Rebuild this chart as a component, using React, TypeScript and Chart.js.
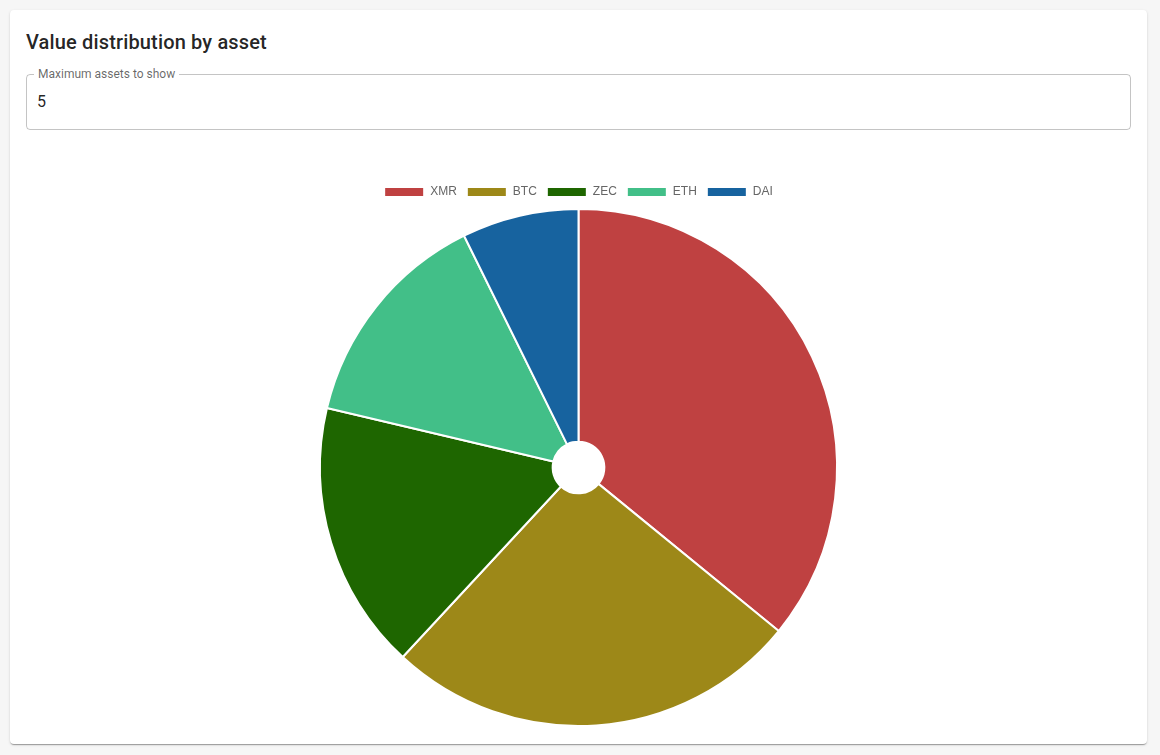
import React, { useEffect, useRef } from "react";
import { Chart, registerables } from "chart.js";

Chart.register(...registerables);

const assets = ["XMR", "BTC", "ZEC", "ETH", "DAI"];
const values = [35.9, 26.0, 16.8, 14.0, 7.3];
const colors = ["#bf4141", "#9d8818", "#1e6600", "#42bf88", "#17639f"];

export default function App() {
  const ref = useRef<HTMLCanvasElement | null>(null);

  useEffect(() => {
    document.body.style.margin = "0";
    document.body.style.background = "#f6f6f6";
    const chart = new Chart(ref.current!, {
      type: "doughnut",
      data: {
        labels: assets,
        datasets: [
          {
            data: values,
            backgroundColor: colors,
            borderColor: "#ffffff",
            borderWidth: 2,
          },
        ],
      },
      options: {
        animation: false,
        responsive: false,
        maintainAspectRatio: false,
        cutout: "10%",
        plugins: {
          legend: {
            position: "top",
            labels: {
              boxWidth: 40,
              boxHeight: 10,
              color: "#666",
              font: { family: "'Helvetica Neue', Helvetica, Arial, 'Liberation Sans', sans-serif", size: 12 },
            },
          },
          tooltip: { enabled: false },
        },
      },
    });
    return () => chart.destroy();
  }, []);

  return (
    <div style={{ padding: 10, fontFamily: "Roboto, sans-serif" }}>
      <div
        style={{
          width: 1137,
          height: 734,
          boxSizing: "border-box",
          background: "#fff",
          borderRadius: 4,
          boxShadow:
            "0px 2px 1px -1px rgba(0,0,0,0.2), 0px 1px 1px 0px rgba(0,0,0,0.14), 0px 1px 3px 0px rgba(0,0,0,0.12)",
          padding: 16,
          position: "relative",
        }}
      >
        <div
          style={{
            fontSize: 20,
            fontWeight: 500,
            lineHeight: "32px",
            height: 32,
            color: "rgba(0,0,0,0.87)",
            letterSpacing: "0.15px",
          }}
        >
          Value distribution by asset
        </div>
        <div
          style={{
            marginTop: 16,
            position: "relative",
            height: 56,
            boxSizing: "border-box",
            border: "1px solid rgba(0,0,0,0.23)",
            borderRadius: 4,
          }}
        >
          <span
            style={{
              position: "absolute",
              left: 7,
              top: -8,
              background: "#fff",
              padding: "0 4px",
              fontSize: 12,
              lineHeight: "14px",
              color: "rgba(0,0,0,0.6)",
            }}
          >
            Maximum assets to show
          </span>
          <span
            style={{
              position: "absolute",
              left: 10,
              top: 15,
              fontSize: 16,
              lineHeight: "23px",
              color: "rgba(0,0,0,0.87)",
            }}
          >
            5
          </span>
        </div>
        <div style={{ marginTop: 46 }}>
          <canvas ref={ref} width={1105} height={551} style={{ display: "block" }} />
        </div>
      </div>
    </div>
  );
}
